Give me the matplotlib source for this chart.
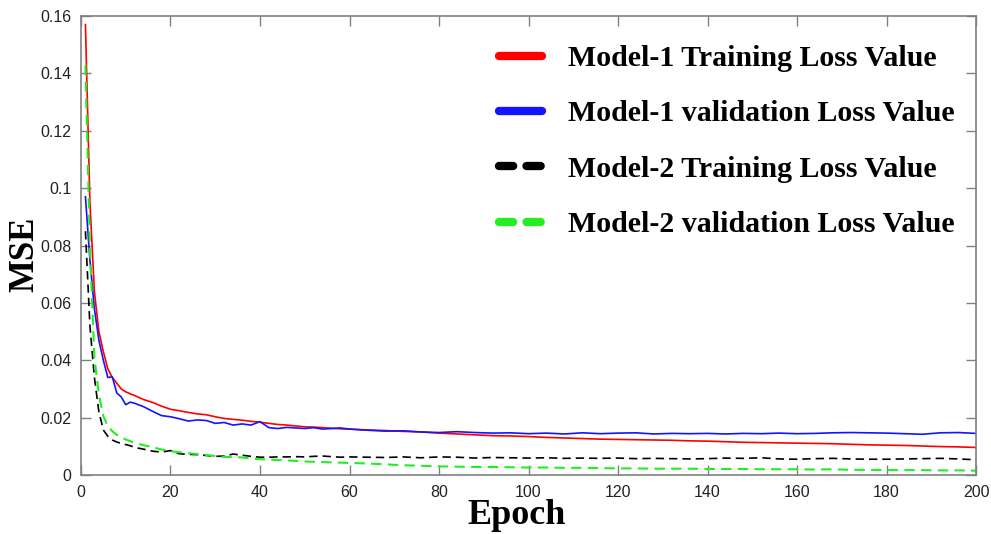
import matplotlib
matplotlib.use('Agg')
import matplotlib.pyplot as plt
from matplotlib.lines import Line2D
from matplotlib.ticker import FuncFormatter, MultipleLocator

# epocas en las que se leyeron los valores
epocas = [1, 2, 3, 4, 5, 6, 7, 8, 9, 10, 11, 12,
          14, 16, 18, 20, 22, 24, 26, 28, 30, 32, 34, 36, 38, 40,
          42, 44, 46, 48, 50, 52, 54, 56, 58, 60,
          64, 68, 72, 76, 80, 84, 88, 92, 96, 100,
          104, 108, 112, 116, 120, 124, 128, 132, 136, 140,
          144, 148, 152, 156, 160, 164, 168, 172, 176, 180,
          184, 188, 192, 196, 200]

# modelo 1, perdida de entrenamiento
m1_train = [0.157, 0.095, 0.064, 0.050, 0.043, 0.037, 0.034, 0.032, 0.030, 0.0290, 0.0283, 0.0277,
            0.0263, 0.0253, 0.0240, 0.0229, 0.0224, 0.0218, 0.0213, 0.0210, 0.0203, 0.0197, 0.0194, 0.0191, 0.0187, 0.0184,
            0.0180, 0.0176, 0.0174, 0.0171, 0.0168, 0.0167, 0.0165, 0.0163, 0.0161, 0.0160,
            0.0157, 0.0155, 0.0152, 0.0150, 0.0146, 0.0143, 0.0140, 0.0137, 0.0136, 0.0134,
            0.0131, 0.0129, 0.0127, 0.0125, 0.0124, 0.0123, 0.0122, 0.0121, 0.0119, 0.0118,
            0.0116, 0.0114, 0.0113, 0.0112, 0.0111, 0.0110, 0.0109, 0.0107, 0.0105, 0.0104,
            0.0103, 0.0101, 0.0099, 0.0098, 0.0096]

# modelo 1, perdida de validacion
m1_val = [0.097, 0.075, 0.058, 0.047, 0.040, 0.034, 0.0342, 0.0286, 0.0272, 0.0245, 0.0254, 0.0250,
          0.0238, 0.0222, 0.0207, 0.0203, 0.0196, 0.0188, 0.0192, 0.0190, 0.0180, 0.0183, 0.0174, 0.0178, 0.0174, 0.0186,
          0.0165, 0.0162, 0.0166, 0.0164, 0.0162, 0.0165, 0.0160, 0.0162, 0.0164, 0.0160,
          0.0156, 0.0153, 0.0154, 0.0150, 0.0148, 0.0151, 0.0148, 0.0146, 0.0147, 0.0144,
          0.0146, 0.0143, 0.0147, 0.0144, 0.0146, 0.0147, 0.0143, 0.0145, 0.0144, 0.0145,
          0.0143, 0.0145, 0.0144, 0.0146, 0.0144, 0.0145, 0.0147, 0.0148, 0.0147, 0.0146,
          0.0144, 0.0142, 0.0147, 0.0148, 0.0145]

# modelo 2, perdida de entrenamiento
m2_train = [0.085, 0.052, 0.034, 0.022, 0.0157, 0.0135, 0.0122, 0.0115, 0.0110, 0.0106, 0.0102, 0.0096,
            0.0090, 0.0083, 0.0080, 0.0085, 0.0074, 0.0072, 0.0071, 0.0068, 0.0065, 0.0066, 0.0073, 0.0069, 0.0065, 0.0062,
            0.0062, 0.0063, 0.0063, 0.0064, 0.0063, 0.0065, 0.0066, 0.0064, 0.0062, 0.0063,
            0.0062, 0.0061, 0.0063, 0.0060, 0.0063, 0.0062, 0.0059, 0.0061, 0.0060, 0.0059,
            0.0060, 0.0058, 0.0059, 0.0058, 0.0059, 0.0057, 0.0058, 0.0057, 0.0056, 0.0057,
            0.0059, 0.0058, 0.0060, 0.0056, 0.0055, 0.0057, 0.0058, 0.0056, 0.0055, 0.0055,
            0.0056, 0.0057, 0.0058, 0.0056, 0.0053]

# modelo 2, perdida de validacion
m2_val = [0.143, 0.079, 0.041, 0.028, 0.0205, 0.0170, 0.0153, 0.0140, 0.0131, 0.0124, 0.0118, 0.0112,
          0.0104, 0.0097, 0.0089, 0.0083, 0.0079, 0.0076, 0.0073, 0.0070, 0.0066, 0.0063, 0.0063, 0.0061, 0.0058, 0.0055,
          0.0054, 0.0052, 0.0051, 0.0049, 0.0047, 0.0046, 0.0045, 0.0044, 0.0043, 0.0042,
          0.0040, 0.0037, 0.0034, 0.0032, 0.0030, 0.0029, 0.0028, 0.0028, 0.0027, 0.0026,
          0.0026, 0.0025, 0.0025, 0.0024, 0.0023, 0.0023, 0.0022, 0.0022, 0.0022, 0.0021,
          0.0021, 0.0021, 0.0020, 0.0020, 0.0020, 0.0019, 0.0020, 0.0018, 0.0018, 0.0017,
          0.0017, 0.0017, 0.0016, 0.0016, 0.0015]

etiquetas = ['Model-1 Training Loss Value', 'Model-1 validation Loss Value',
             'Model-2 Training Loss Value', 'Model-2 validation Loss Value']
colores = ['#ff0000', '#1414ff', '#000000', '#22ee22']

# figura y ejes
fig = plt.figure(figsize=(9.91, 5.34), dpi=100)
ax = fig.add_axes([0.0817, 0.1105, 0.9033, 0.8595])

# curvas
ax.plot(epocas, m1_train, color=colores[0], lw=1.2)
ax.plot(epocas, m1_val, color=colores[1], lw=1.2)
ax.plot(epocas, m2_train, color=colores[2], lw=1.2, linestyle=(0, (5, 3)))
ax.plot(epocas, m2_val, color=colores[3], lw=1.5, linestyle=(0, (5, 3)))

# limites y ticks
ax.set_xlim(0, 200)
ax.set_ylim(0, 0.16)
ax.xaxis.set_major_locator(MultipleLocator(20))
ax.yaxis.set_major_locator(MultipleLocator(0.02))
ax.yaxis.set_major_formatter(FuncFormatter(lambda v, p: '%g' % round(v, 4)))
ax.tick_params(direction='in', top=True, right=True, length=7, width=1,
               color='#808080', labelsize=11.5, pad=7)
for lab in ax.get_xticklabels() + ax.get_yticklabels():
    lab.set_fontfamily('Liberation Sans')
    lab.set_color('#222222')
for sp in ax.spines.values():
    sp.set_color('#808080')
    sp.set_linewidth(1.2)

# etiquetas de los ejes, puestas a mano en la figura
fig.text(517 / 991, 1 - 516 / 534, 'Epoch', fontfamily='Liberation Serif',
         fontweight='bold', fontsize=26, ha='center', va='center')
fig.text(25 / 991, 1 - 254 / 534, 'MSE', fontfamily='Liberation Serif',
         fontweight='bold', fontsize=25, ha='center', va='center',
         rotation=90)

# leyenda con lineas gruesas
manijas = [Line2D([], [], color=colores[0], lw=6, solid_capstyle='round'),
           Line2D([], [], color=colores[1], lw=6, solid_capstyle='round'),
           Line2D([], [], color=colores[2], lw=6, linestyle=(0, (1.7, 1.6)), dash_capstyle='round'),
           Line2D([], [], color=colores[3], lw=6, linestyle=(0, (1.7, 1.6)), dash_capstyle='round')]
ax.legend(manijas, etiquetas, loc='upper left', frameon=False,
          prop={'family': 'Liberation Serif', 'weight': 'bold', 'size': 21.5},
          handlelength=1.45, handletextpad=0.85, labelspacing=0.95,
          borderpad=0, borderaxespad=0,
          bbox_to_anchor=(499 / 991, 1 - 45 / 534), bbox_transform=fig.transFigure)

plt.savefig('out.png', dpi=100)
